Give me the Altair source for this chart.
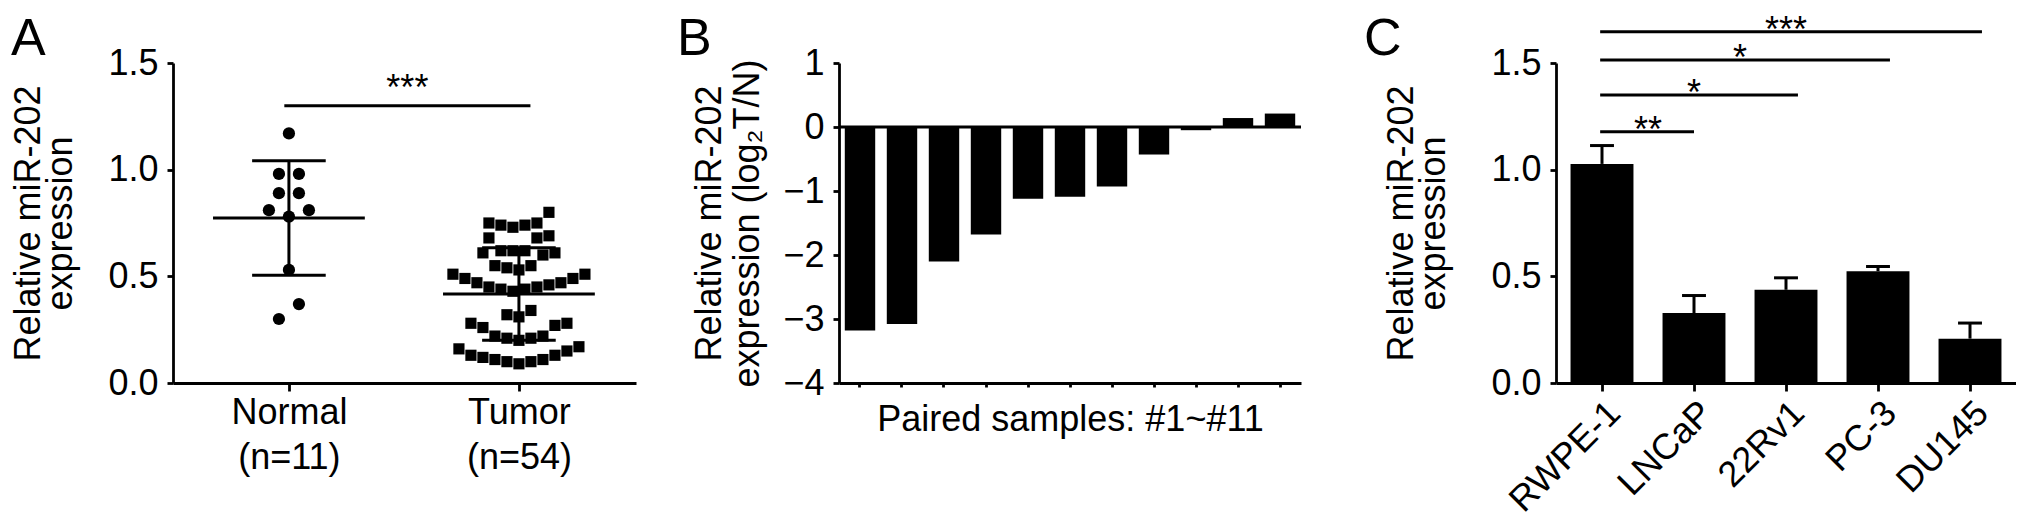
import json
import altair as alt
import pandas as pd

# ---------------- data ----------------
# Panel A
groups = ["Normal", "Tumor"]
group_n = ["(n=11)", "(n=54)"]
normal_values = [1.17, 0.98, 0.98, 0.89, 0.89, 0.81, 0.81, 0.78, 0.53, 0.37, 0.30]
tumor_values = [0.80,
                0.75, 0.74, 0.73, 0.74, 0.75,
                0.69, 0.68, 0.68,
                0.62, 0.61, 0.60, 0.62, 0.61, 0.62,
                0.55, 0.54, 0.53, 0.55,
                0.51, 0.49, 0.47, 0.46, 0.45, 0.44, 0.43, 0.44, 0.45, 0.47, 0.49, 0.51,
                0.34, 0.31, 0.32,
                0.28, 0.26, 0.27, 0.28,
                0.22, 0.21, 0.20, 0.21, 0.22,
                0.17, 0.15, 0.13, 0.12, 0.11, 0.10, 0.09, 0.10, 0.11, 0.13, 0.16]
sig_a_from = [0]
sig_a_to = [1]
sig_a_y = [1.3]
sig_a_label = ["***"]

# Panel B
samples = ["#1", "#2", "#3", "#4", "#5", "#6", "#7", "#8", "#9", "#10", "#11"]
log2_ratio = [-3.18, -3.08, -2.10, -1.68, -1.12, -1.09, -0.93, -0.43, -0.05, 0.14, 0.21]

# Panel C
cell_lines = ["RWPE-1", "LNCaP", "22Rv1", "PC-3", "DU145"]
cell_means = [1.027, 0.328, 0.437, 0.524, 0.208]
cell_errs = [0.086, 0.082, 0.056, 0.022, 0.073]
sig_c_from = [0, 0, 0, 0]
sig_c_to = [1, 2, 3, 4]
sig_c_y = [1.178, 1.35, 1.514, 1.647]
sig_c_label = ["**", "*", "*", "***"]

panel_letters = ["A", "B", "C"]

# ---------------- styling ----------------
FONT = "Liberation Sans, Arial, sans-serif"
FS = 36
LFS = 52
LW = 2.8
H = 320
A_W, B_W, C_W = 463, 462, 460
GAP_AB, GAP_BC = 203, 255

# ---------------- Panel A ----------------
a_xdom = [-0.504, 1.509]
a_xpx = A_W / (a_xdom[1] - a_xdom[0])


def column_scatter(vals, spacing_px, bin_w=0.085):
    """Prism-like column scatter: rows of similar values, lowest in the centre."""
    order = sorted(range(len(vals)), key=lambda i: vals[i])
    rows, cur, start = [], [], None
    for i in order:
        if cur and vals[i] - start > bin_w:
            rows.append(cur)
            cur = []
        if not cur:
            start = vals[i]
        cur.append(i)
    if cur:
        rows.append(cur)
    offs = [0.0] * len(vals)
    for row in rows:
        k = len(row)
        slots = [(j - (k - 1) / 2.0) for j in range(k)]
        slots.sort(key=lambda s: (abs(s), s))
        for i, s in zip(row, slots):
            offs[i] = s * spacing_px / a_xpx
    return offs


n_off = column_scatter(normal_values, 20.0)
t_off = column_scatter(tumor_values, 12.0)
pts = pd.DataFrame({
    "group": [groups[0]] * len(normal_values) + [groups[1]] * len(tumor_values),
    "y": normal_values + tumor_values,
    "x": [0 + o for o in n_off] + [1 + o for o in t_off],
})

summ = pd.DataFrame({"group": groups, "idx": [0, 1],
                     "mean": [pd.Series(normal_values).mean(), pd.Series(tumor_values).mean()],
                     "sd": [pd.Series(normal_values).std(), pd.Series(tumor_values).std()]})
summ["lo"] = summ["mean"] - summ["sd"]
summ["hi"] = summ["mean"] + summ["sd"]
summ["ml"] = summ["idx"] - 0.33
summ["mr"] = summ["idx"] + 0.33
summ["cl"] = summ["idx"] - 0.16
summ["cr"] = summ["idx"] + 0.16

siga = pd.DataFrame({"from": sig_a_from, "to": sig_a_to, "y": sig_a_y, "label": sig_a_label})
siga["from"] = siga["from"] - 0.02
siga["to"] = siga["to"] + 0.05
siga["mid"] = (siga["from"] + siga["to"]) / 2

a_label_expr = "datum.value < 0.5 ? %s : %s" % (json.dumps([groups[0], group_n[0]]),
                                                json.dumps([groups[1], group_n[1]]))
a_xaxis = alt.Axis(values=[0, 1], labelExpr=a_label_expr, title=None, tickSize=8,
                   labelLineHeight=45, labelPadding=4, labelBaseline="top")
a_xscale = alt.Scale(domain=a_xdom, nice=False, zero=False)
a_yscale = alt.Scale(domain=[0, 1.5], nice=False)
a_yaxis = alt.Axis(values=[0, 0.5, 1, 1.5], format=".1f",
                   title=["Relative miR-202", "expression"], titlePadding=28, titleLineHeight=32)


def AX(f):
    return alt.X(f, scale=a_xscale, axis=a_xaxis)


def AY(f):
    return alt.Y(f, scale=a_yscale, axis=a_yaxis)


def letter(t, xpix):
    return alt.Chart(pd.DataFrame({"t": [t]})).mark_text(
        font=FONT, fontSize=LFS, color="black", align="left", baseline="alphabetic"
    ).encode(x=alt.value(xpix), y=alt.value(-8), text="t:N")


# invisible anchor fixing the top-left extent of the whole figure
anchor = alt.Chart(pd.DataFrame({"v": [0]})).mark_rule(opacity=0, strokeWidth=1).encode(
    x=alt.value(-165), x2=alt.value(-160), y=alt.value(-55))

a_pts = alt.Chart(pts).mark_point(filled=True, opacity=1, color="black").encode(
    x=AX("x:Q"), y=AY("y:Q"),
    shape=alt.Shape("group:N", scale=alt.Scale(domain=groups, range=["circle", "square"]), legend=None),
    size=alt.Size("group:N", scale=alt.Scale(domain=groups, range=[150, 125]), legend=None),
)
a_mean = alt.Chart(summ).mark_rule(color="black", strokeWidth=3).encode(x=AX("ml:Q"), x2="mr:Q", y=AY("mean:Q"))
a_caph = alt.Chart(summ).mark_rule(color="black", strokeWidth=3).encode(x=AX("cl:Q"), x2="cr:Q", y=AY("hi:Q"))
a_capl = alt.Chart(summ).mark_rule(color="black", strokeWidth=3).encode(x=AX("cl:Q"), x2="cr:Q", y=AY("lo:Q"))
a_vert = alt.Chart(summ).mark_rule(color="black", strokeWidth=3).encode(x=AX("idx:Q"), y=AY("lo:Q"), y2="hi:Q")
a_sig = alt.Chart(siga).mark_rule(color="black", strokeWidth=3).encode(x=AX("from:Q"), x2="to:Q", y=AY("y:Q"))
a_sigt = alt.Chart(siga).mark_text(font=FONT, fontSize=FS, color="black", baseline="alphabetic", dy=-6).encode(
    x=AX("mid:Q"), y=AY("y:Q"), text="label:N")
panel_a = alt.layer(a_pts, a_mean, a_caph, a_capl, a_vert, a_sig, a_sigt,
                    letter(panel_letters[0], -162), anchor).properties(width=A_W, height=H)

# ---------------- Panel B ----------------
bdf = pd.DataFrame({"sample": samples, "value": log2_ratio})
b_x = alt.X("sample:N", sort=samples, scale=alt.Scale(paddingInner=0.276, paddingOuter=0.138),
            axis=alt.Axis(labels=False, title="Paired samples: #1~#11", tickSize=4, titlePadding=14))
b_yaxis = alt.Axis(values=[-4, -3, -2, -1, 0, 1], format="d",
                   title=["Relative miR-202", "expression (log\u2082T/N)"], titlePadding=16,
                   titleLineHeight=38)
b_yscale = alt.Scale(domain=[-4, 1], nice=False)
b_bars = alt.Chart(bdf).mark_bar(color="black").encode(x=b_x, y=alt.Y("value:Q", scale=b_yscale, axis=b_yaxis))
b_zero = alt.Chart(pd.DataFrame({"z": [0]})).mark_rule(color="black", strokeWidth=3).encode(
    y=alt.Y("z:Q", scale=b_yscale, axis=b_yaxis))
panel_b = alt.layer(b_bars, b_zero, letter(panel_letters[1], -162)).properties(width=B_W, height=H)

# ---------------- Panel C ----------------
cdf = pd.DataFrame({"cell": cell_lines, "idx": list(range(len(cell_lines))),
                    "mean": cell_means, "err": cell_errs})
cdf["top"] = cdf["mean"] + cdf["err"]
cdf["bl"] = cdf["idx"] - 0.342
cdf["br"] = cdf["idx"] + 0.342
cdf["cl"] = cdf["idx"] - 0.13
cdf["cr"] = cdf["idx"] + 0.13
cdf["zero"] = 0.0

sigc = pd.DataFrame({"from": sig_c_from, "to": sig_c_to, "y": sig_c_y, "label": sig_c_label})
sigc["mid"] = (sigc["from"] + sigc["to"]) / 2
sigc["x1"] = sigc["from"] - 0.02
sigc["x2"] = sigc["to"] + (sigc["to"] > 1) * 0.13

c_label_expr = "%s[datum.value]" % json.dumps(cell_lines)
c_xscale = alt.Scale(domain=[-0.5, len(cell_lines) - 0.5], nice=False, zero=False)
c_xaxis = alt.Axis(values=list(range(len(cell_lines))), labelExpr=c_label_expr, labelAngle=-45,
                   labelOverlap=False, title=None, tickSize=8, labelPadding=4)
c_yscale = alt.Scale(domain=[0, 1.5], nice=False)
c_yaxis = alt.Axis(values=[0, 0.5, 1, 1.5], format=".1f",
                   title=["Relative miR-202", "expression"], titlePadding=38, titleLineHeight=32)


def CX(f):
    return alt.X(f, scale=c_xscale, axis=c_xaxis)


def CY(f):
    return alt.Y(f, scale=c_yscale, axis=c_yaxis)


c_err = alt.Chart(cdf).mark_rule(color="black", strokeWidth=3).encode(x=CX("idx:Q"), y=CY("mean:Q"), y2="top:Q")
c_cap = alt.Chart(cdf).mark_rule(color="black", strokeWidth=3).encode(x=CX("cl:Q"), x2="cr:Q", y=CY("top:Q"))
c_bars = alt.Chart(cdf).mark_bar(color="black").encode(x=CX("bl:Q"), x2="br:Q", y=CY("mean:Q"), y2="zero:Q")
c_sig = alt.Chart(sigc).mark_rule(color="black", strokeWidth=3).encode(x=CX("x1:Q"), x2="x2:Q", y=CY("y:Q"))
c_sigt = alt.Chart(sigc).mark_text(font=FONT, fontSize=FS, color="black", baseline="alphabetic", dy=10).encode(
    x=CX("mid:Q"), y=CY("y:Q"), text="label:N")
panel_c = alt.layer(c_err, c_cap, c_bars, c_sig, c_sigt,
                    letter(panel_letters[2], -192)).properties(width=C_W, height=H)


def spacer(w):
    return alt.Chart(pd.DataFrame({"v": [0]})).mark_point(opacity=0).properties(width=w, height=H)


chart = alt.hconcat(panel_a, spacer(GAP_AB), panel_b, spacer(GAP_BC), panel_c, spacing=0,
                    bounds="flush").properties(
    padding={"left": 0, "top": 0, "right": 0, "bottom": 0}
).configure_view(strokeWidth=0).configure_axis(
    grid=False, domainColor="black", domainWidth=LW, tickColor="black", tickWidth=LW,
    labelColor="black", labelFont=FONT, labelFontSize=FS, titleColor="black", titleFont=FONT,
    titleFontSize=FS, titleFontWeight="normal"
).configure_axisY(tickSize=6, labelPadding=9)

chart.save("out.html", embed_options={"renderer": "svg", "actions": False})
